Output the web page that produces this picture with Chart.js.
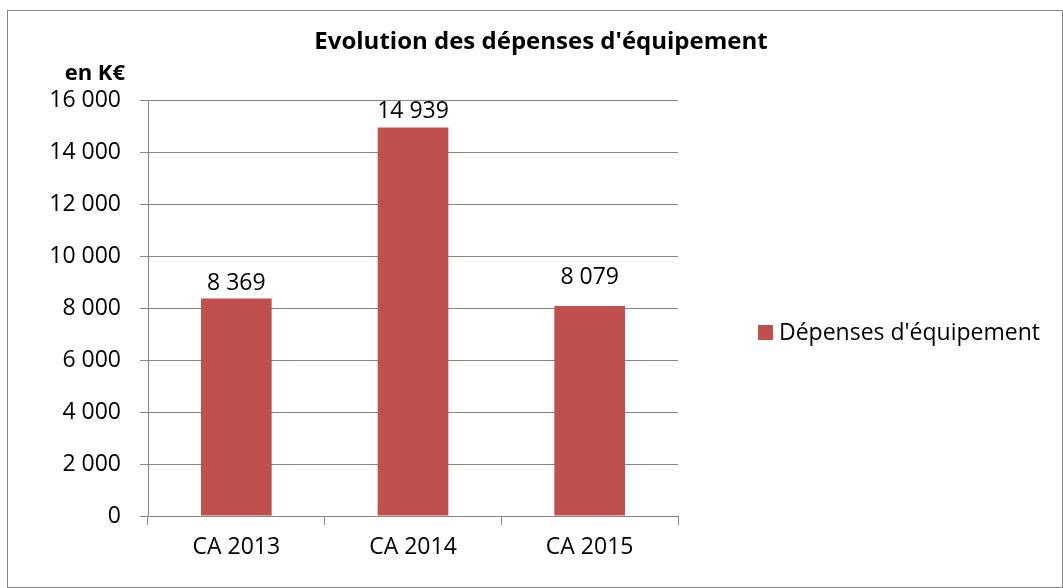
<!DOCTYPE html>
<html>
<head>
<meta charset="utf-8">
<script src="https://cdn.jsdelivr.net/npm/chart.js@4.4.1/dist/chart.umd.min.js"></script>
<style>
  html, body { margin: 0; padding: 0; background: #ffffff; }
  #wrap { width: 1063px; height: 588px; position: relative; }
</style>
</head>
<body>
<div id="wrap"><canvas id="c" width="1063" height="588"></canvas></div>
<script>
// ---- Data ----
const categories = ['CA 2013', 'CA 2014', 'CA 2015'];
const seriesLabel = "Dépenses d'équipement";
const seriesValues = [8369, 14939, 8079];
const yTicks = [0, 2000, 4000, 6000, 8000, 10000, 12000, 14000, 16000];
const chartTitle = "Evolution des dépenses d'équipement";
const unitLabel = 'en K€';

// ---- Styles ----
const FONT = '"Open Sans", Lato, sans-serif';
const BAR_COLOR = '#C0504D';
const GRID_COLOR = '#868686';
const labelOffsets = [8, 10, 22];

function fmt(v) {
  return String(Math.round(v)).replace(/\B(?=(\d{3})+(?!\d))/g, ' ');
}

const decor = {
  id: 'decor',
  beforeDraw(chart) {
    const ctx = chart.ctx;
    ctx.save();
    ctx.fillStyle = '#ffffff';
    ctx.fillRect(0, 0, chart.width, chart.height);
    ctx.strokeStyle = GRID_COLOR;
    ctx.lineWidth = 1;
    ctx.strokeRect(7.5, 10.5, 1055, 577);
    ctx.restore();
  },
  afterDatasetsDraw(chart) {
    const ctx = chart.ctx;
    const meta = chart.getDatasetMeta(0);
    ctx.save();
    ctx.font = '23px ' + FONT;
    ctx.fillStyle = '#000000';
    ctx.textAlign = 'center';
    ctx.textBaseline = 'alphabetic';
    meta.data.forEach((bar, i) => {
      ctx.fillText(fmt(chart.data.datasets[0].data[i]), bar.x, bar.y - labelOffsets[i]);
    });
    ctx.restore();
  },
  afterDraw(chart) {
    const ctx = chart.ctx;
    ctx.save();
    ctx.fillStyle = '#000000';
    ctx.textBaseline = 'alphabetic';
    // title
    ctx.font = 'bold 24px ' + FONT;
    ctx.textAlign = 'center';
    ctx.fillText(chartTitle, 541, 49);
    // unit
    ctx.font = 'bold 22px ' + FONT;
    ctx.textAlign = 'right';
    ctx.fillText(unitLabel, 125, 80);
    // legend
    ctx.fillStyle = BAR_COLOR;
    ctx.fillRect(758, 325, 15, 15);
    ctx.fillStyle = '#000000';
    ctx.font = '23px ' + FONT;
    ctx.textAlign = 'left';
    ctx.fillText(chart.data.datasets[0].label, 779, 340);
    ctx.restore();
  }
};

new Chart(document.getElementById('c'), {
  type: 'bar',
  data: {
    labels: categories,
    datasets: [{
      label: seriesLabel,
      data: seriesValues,
      backgroundColor: BAR_COLOR,
      borderWidth: 0,
      categoryPercentage: 1.0,
      barPercentage: 0.4
    }]
  },
  options: {
    responsive: false,
    animation: false,
    devicePixelRatio: 1,
    layout: { padding: { left: 0, top: 100, right: 385, bottom: 0 } },
    plugins: {
      legend: { display: false },
      title: { display: false },
      tooltip: { enabled: false }
    },
    scales: {
      x: {
        offset: true,
        grid: {
          offset: true,
          drawOnChartArea: false,
          drawTicks: true,
          tickLength: 9,
          color: GRID_COLOR,
          lineWidth: 1
        },
        border: { display: true, color: GRID_COLOR, width: 1 },
        ticks: {
          color: '#000000',
          font: { family: FONT, size: 23 },
          padding: 9,
          maxRotation: 0
        },
        afterFit(scale) { scale.height = 72; }
      },
      y: {
        min: 0,
        max: 16000,
        afterBuildTicks(scale) { scale.ticks = yTicks.map(v => ({ value: v })); },
        grid: {
          color: GRID_COLOR,
          lineWidth: 1,
          drawTicks: true,
          tickLength: 8
        },
        border: { display: true, color: GRID_COLOR, width: 1 },
        ticks: {
          color: '#000000',
          font: { family: FONT, size: 23 },
          padding: 19,
          callback: (v) => fmt(v)
        },
        afterFit(scale) { scale.width = 148; }
      }
    }
  },
  plugins: [decor]
});
</script>
</body>
</html>
